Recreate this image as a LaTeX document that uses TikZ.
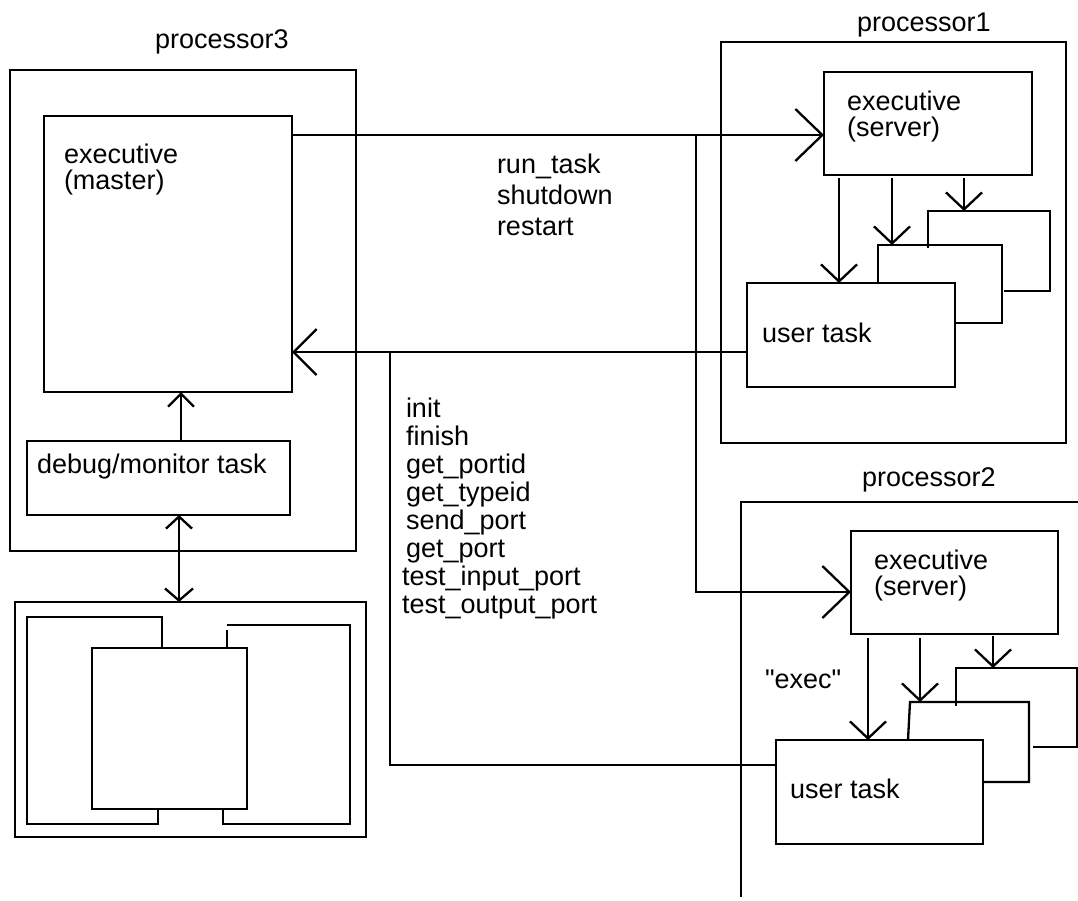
\documentclass[tikz,border=0pt]{standalone}
\usepackage{fontspec}
\setmainfont{Liberation Sans}
\newfontfamily\rawfont{Liberation Sans}[Ligatures=TeXOff]
\usetikzlibrary{arrows.meta}

\newcommand\dfont{\fontsize{27pt}{30pt}\selectfont}

\tikzset{
  box/.style={draw, line width=2.3pt, inner sep=0pt, outer sep=0pt, anchor=north west},
  lbl/.style={inner sep=0pt, outer sep=0pt, anchor=base west, font=\dfont},
  wire/.style={line width=2.3pt},
  bigarr/.style={wire, -{Straight Barb[length=27pt, width=52pt, line width=2.3pt]}},
  midarr/.style={wire, -{Straight Barb[length=23pt, width=46pt, line width=2.3pt]}},
  downarr/.style={wire, -{Straight Barb[length=17pt, width=36pt, line width=2.3pt]}},
  smallarr/.style={wire, -{Straight Barb[length=13pt, width=26pt, line width=2.3pt]}},
  bothsmall/.style={wire, {Straight Barb[length=12pt, width=26pt, line width=2.3pt]}-{Straight Barb[length=12pt, width=28pt, line width=2.3pt]}},
}

\begin{document}
\begin{tikzpicture}[x=1pt, y=-1pt, line join=miter]
\useasboundingbox[fill=white] (0,0) rectangle (1078,900);

% ---------------- processor3 ----------------
\node[box, minimum width=346pt, minimum height=481pt] (p3) at (10,70) {};
\node[lbl] (p3lbl) at (155,48) {processor3};
\node[box, minimum width=248pt, minimum height=276pt] (master) at (44,116) {};
\node[lbl] (masterA) at (64,163) {executive};
\node[lbl] (masterB) at (64,189) {(master)};
\node[box, minimum width=263pt, minimum height=74pt] (debug) at (27,441) {};
\node[lbl] (debugtxt) at (37,473) {debug/monitor task};

% ---------------- terminal ----------------
\node[box, minimum width=351pt, minimum height=235pt] (term) at (15,602) {};
\node[box, minimum width=155pt, minimum height=161pt] (win) at (92,648) {};
\draw[wire] (win.north west -| 162,0) -- (162,617) -- (27,617) -- (27,824) -- (158,824) -- (win.south west -| 158,0);
\draw[wire] (win.north west -| 227,0) -- (227,630);
\draw[wire] (227,625) -- (350,625) -- (350,824) -- (223,824) -- (win.south west -| 223,0);

% ---------------- processor1 ----------------
\node[box, minimum width=345pt, minimum height=401pt] (p1) at (721,42) {};
\node[lbl] (p1lbl) at (857,31) {processor1};
\node[box, minimum width=208pt, minimum height=103pt] (exec1) at (824,72) {};
\node[lbl] (exec1A) at (847,110) {executive};
\node[lbl] (exec1B) at (847,136) {(server)};
\node[box, minimum width=208pt, minimum height=104pt] (ut1) at (747,283) {};
\node[lbl] (ut1txt) at (762,342) {user task};
% stacked task cards
\draw[wire] (ut1.north west -| 878,0) -- (878,245) -- (1002,245) -- (1002,323) -- (ut1.east |- 0,323);
\draw[wire] (928,248) -- (928,211) -- (1050,211) -- (1050,291) -- (1004,291);
\coordinate (c1a) at (892,245);
\coordinate (c1b) at (964,211);
\draw[downarr] (839,178) -- (ut1.north west -| 839,0);
\draw[downarr] (892,178) -- (c1a);
\draw[downarr] (964,178) -- (c1b);

% ---------------- processor2 ----------------
\draw[wire] (1078,502) -- (741,502) -- (741,897);
\node[lbl] (p2lbl) at (862,486) {processor2};
\node[box, minimum width=207pt, minimum height=103pt] (exec2) at (851,531) {};
\node[lbl] (exec2A) at (874,569) {executive};
\node[lbl] (exec2B) at (874,595) {(server)};
\node[box, minimum width=207pt, minimum height=104pt] (ut2) at (776,740) {};
\node[lbl] (ut2txt) at (790,798) {user task};
\node[lbl, font=\rawfont\dfont] (execq) at (765,688) {"exec"};
% stacked task cards
\draw[wire] (ut2.north west -| 908,0) -- (910,702) -- (1029,702) -- (1029,782) -- (ut2.east |- 0,782);
\draw[wire] (956,706) -- (956,668) -- (1077,668) -- (1077,747) -- (1033,747);
\coordinate (c2a) at (920,702);
\coordinate (c2b) at (993,668);
\draw[downarr] (868,638) -- (ut2.north west -| 868,0);
\draw[downarr] (920,638) -- (c2a);
\draw[downarr] (993,636) -- (c2b);

% ---------------- message paths ----------------
\coordinate (cmdY) at (0,135);
\coordinate (j1) at (696,135);
\coordinate (e2in) at (0,592);
\coordinate (retY) at (0,352);
\coordinate (j2) at (390,352);
\coordinate (u2ret) at (0,765);

\draw[bigarr] (master.east |- cmdY) -- (exec1.west |- cmdY);
\draw[bigarr] (j1) -- (j1 |- e2in) -- (exec2.west |- e2in);
\draw[midarr] (ut1.west |- retY) -- (master.east |- retY);
\draw[wire] (j2) -- (j2 |- u2ret) -- (ut2.west |- u2ret);

\draw[smallarr] (debug.north -| 181,0) -- (master.south -| 181,0);
\draw[bothsmall] (debug.south -| 179,0) -- (term.north -| 179,0);

% ---------------- message labels ----------------
\node[lbl] (m1) at (497,173) {run\_task};
\node[lbl] (m2) at (497,204) {shutdown};
\node[lbl] (m3) at (497,235) {restart};

\node[lbl] (r1) at (406,417) {init};
\node[lbl] (r2) at (406,445) {finish};
\node[lbl] (r3) at (406,473) {get\_portid};
\node[lbl] (r4) at (406,501) {get\_typeid};
\node[lbl] (r5) at (406,529) {send\_port};
\node[lbl] (r6) at (406,557) {get\_port};
\node[lbl] (r7) at (402,585) {test\_input\_port};
\node[lbl] (r8) at (402,613) {test\_output\_port};
\end{tikzpicture}
\end{document}
